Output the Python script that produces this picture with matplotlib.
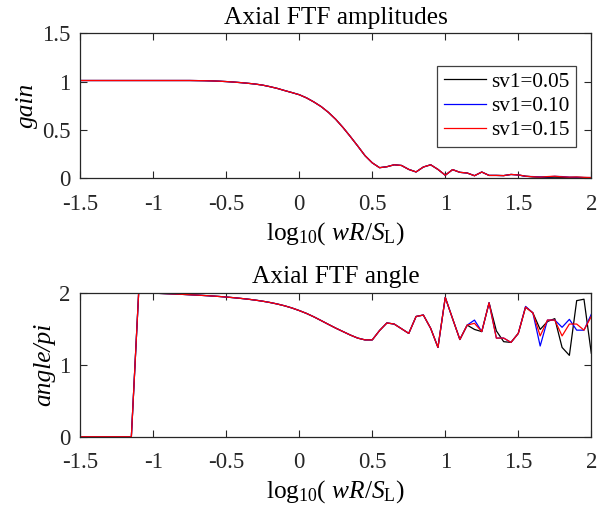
import numpy as np
import matplotlib
matplotlib.use("Agg")
import matplotlib.pyplot as plt

plt.rcParams['font.family'] = ['Liberation Serif', 'DejaVu Serif']
plt.rcParams['mathtext.fontset'] = 'custom'
plt.rcParams['mathtext.rm'] = 'Liberation Serif'
plt.rcParams['mathtext.it'] = 'Liberation Serif:italic'

# log10(wR/S_L) Stuetzstellen
logw = [-1.5, -1.45, -1.4, -1.35, -1.3, -1.25, -1.2, -1.15, -1.1, -1.05,
        -1.0, -0.95, -0.9, -0.85, -0.8, -0.75, -0.7, -0.65, -0.6, -0.55,
        -0.5, -0.45, -0.4, -0.35, -0.3, -0.25, -0.2, -0.15, -0.1, -0.05,
        0.0, 0.05, 0.1, 0.15, 0.2, 0.25, 0.3, 0.35, 0.4, 0.45,
        0.5, 0.55, 0.6, 0.65, 0.7, 0.75, 0.8, 0.85, 0.9, 0.95,
        1.0, 1.05, 1.1, 1.15, 1.2, 1.25, 1.3, 1.35, 1.4, 1.45,
        1.5, 1.55, 1.6, 1.65, 1.7, 1.75, 1.8, 1.85, 1.9, 1.95, 2.0]

# Amplitude, gemeinsamer Teil bis 1.5
gain_common = [1.012, 1.012, 1.012, 1.012, 1.012, 1.012, 1.012, 1.012, 1.012, 1.012,
               1.012, 1.012, 1.012, 1.012, 1.012, 1.012, 1.011, 1.010, 1.008, 1.005,
               1.001, 0.996, 0.990, 0.983, 0.975, 0.964, 0.948, 0.930, 0.908, 0.887,
               0.865, 0.832, 0.790, 0.742, 0.682, 0.610, 0.525, 0.432, 0.335, 0.235,
               0.160, 0.110, 0.120, 0.140, 0.133, 0.092, 0.066, 0.117, 0.140, 0.092,
               0.032, 0.090, 0.062, 0.055, 0.027, 0.065, 0.030, 0.030, 0.028, 0.040,
               0.035]
gain_tail_005 = [0.022, 0.015, 0.012, 0.010, 0.012, 0.010, 0.008, 0.010, 0.008, 0.006]
gain_tail_010 = [0.020, 0.018, 0.014, 0.016, 0.020, 0.018, 0.012, 0.010, 0.008, 0.008]
gain_tail_015 = [0.022, 0.016, 0.012, 0.018, 0.022, 0.015, 0.012, 0.014, 0.010, 0.008]

# Phase / pi, gemeinsamer Teil bis 1.1
angle_common = [0, 0, 0, 0, 0, 0, 0, 0, 2.000, 1.998,
                1.994, 1.990, 1.986, 1.982, 1.977, 1.972, 1.967, 1.961, 1.955, 1.948,
                1.940, 1.931, 1.921, 1.910, 1.897, 1.882, 1.864, 1.843, 1.818, 1.788,
                1.752, 1.712, 1.665, 1.613, 1.560, 1.508, 1.460, 1.412, 1.370, 1.345,
                1.345, 1.475, 1.580, 1.565, 1.500, 1.435, 1.670, 1.690, 1.505, 1.240,
                1.935, 1.640, 1.350]
angle_tail_005 = [1.55, 1.49, 1.46, 1.86, 1.47, 1.32, 1.31, 1.435, 1.80,
                  1.72, 1.49, 1.60, 1.64, 1.24, 1.13, 1.89, 1.91, 1.16]
angle_tail_010 = [1.55, 1.62, 1.46, 1.86, 1.37, 1.37, 1.31, 1.435, 1.81,
                  1.72, 1.26, 1.62, 1.62, 1.52, 1.63, 1.48, 1.48, 1.70]
angle_tail_015 = [1.55, 1.575, 1.46, 1.86, 1.37, 1.37, 1.31, 1.435, 1.80,
                  1.72, 1.40, 1.62, 1.62, 1.40, 1.565, 1.565, 1.48, 1.67]

labels = ['sv1=0.05', 'sv1=0.10', 'sv1=0.15']
colors = ['black', 'blue', 'red']
gains = [gain_common + gain_tail_005, gain_common + gain_tail_010, gain_common + gain_tail_015]
angles = [angle_common + angle_tail_005, angle_common + angle_tail_010, angle_common + angle_tail_015]

fig = plt.figure(figsize=(6.08, 5.13), dpi=100)
ax1 = fig.add_axes([0.132, 0.6524, 0.8405, 0.2826])
ax2 = fig.add_axes([0.132, 0.1487, 0.8405, 0.2807])

xlab = r'log$_{10}$( $wR/S_{\mathrm{L}}$)'

for g, c, l in zip(gains, colors, labels):
    ax1.plot(logw, g, color=c, lw=0.9, label=l)
for a, c in zip(angles, colors):
    ax2.plot(logw, a, color=c, lw=0.9)

ax1.set_xlim(-1.5, 2)
ax1.set_ylim(0, 1.5)
ax1.set_xticks([-1.5, -1, -0.5, 0, 0.5, 1, 1.5, 2])
ax1.set_xticklabels(['-1.5', '-1', '-0.5', '0', '0.5', '1', '1.5', '2'])
ax1.set_yticks([0, 0.5, 1, 1.5])
ax1.set_yticklabels(['0', '0.5', '1', '1.5'])
ax1.set_title('Axial FTF amplitudes', fontsize=18.3, pad=7)
ax1.set_xlabel(xlab, fontsize=18.3, labelpad=4)
ax1.set_ylabel('gain', fontsize=18.3, style='italic', labelpad=3)

ax2.set_xlim(-1.5, 2)
ax2.set_ylim(0, 2)
ax2.set_xticks([-1.5, -1, -0.5, 0, 0.5, 1, 1.5, 2])
ax2.set_xticklabels(['-1.5', '-1', '-0.5', '0', '0.5', '1', '1.5', '2'])
ax2.set_yticks([0, 1, 2])
ax2.set_yticklabels(['0', '1', '2'])
ax2.set_title('Axial FTF angle', fontsize=18.3, pad=7)
ax2.set_xlabel(xlab, fontsize=18.3, labelpad=4)
ax2.set_ylabel('angle/pi', fontsize=18.3, style='italic', labelpad=3)

for ax in (ax1, ax2):
    ax.tick_params(direction='in', length=5, width=0.8, top=True, right=True,
                   labelsize=16.5, colors='#262626')
    ax.tick_params(axis='x', pad=11)
    ax.tick_params(axis='y', pad=7)
    for s in ax.spines.values():
        s.set_linewidth(0.9)
        s.set_color('#262626')

leg = ax1.legend(loc='upper left', bbox_to_anchor=(0.7193, 0.872),
                 bbox_transform=fig.transFigure, borderaxespad=0,
                 fontsize=15.3, frameon=True, fancybox=False, framealpha=1,
                 handlelength=2.0, handletextpad=0.25, labelspacing=0.2,
                 borderpad=0.3)
leg.get_frame().set_edgecolor('#404040')
leg.get_frame().set_linewidth(0.9)

fig.savefig('out.png', dpi=100)
